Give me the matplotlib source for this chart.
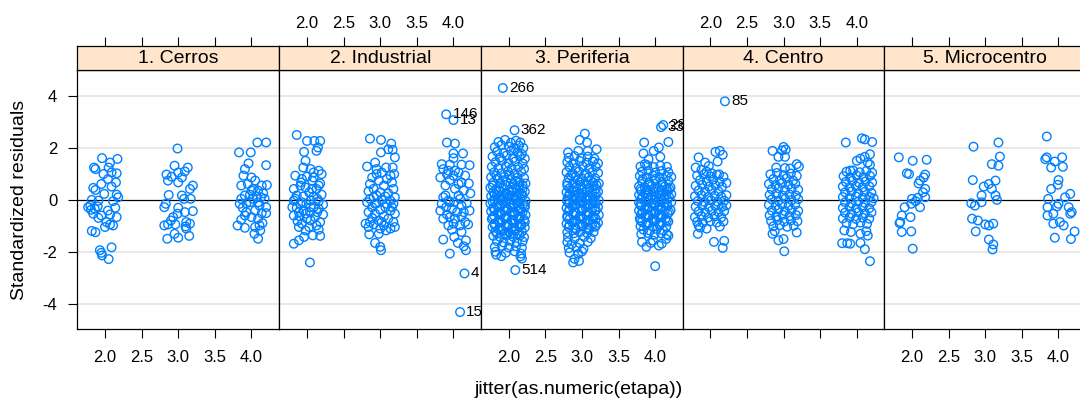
import matplotlib
matplotlib.use("Agg")
import matplotlib.pyplot as plt

plt.rcParams['font.family'] = ['Liberation Sans', 'DejaVu Sans']

# ---------------------------------------------------------------------------
# Data: standardized residuals against jittered etapa, one list per zone
# ---------------------------------------------------------------------------
panel_titles = ["1. Cerros", "2. Industrial", "3. Periferia", "4. Centro", "5. Microcentro"]
x_ticks = [2.0, 2.5, 3.0, 3.5, 4.0]
x_tick_labels = ["2.0", "2.5", "3.0", "3.5", "4.0"]
y_ticks = [-4, -2, 0, 2, 4]
y_tick_labels = ["-4", "-2", "0", "2", "4"]

cerros = [
    (1.96, 1.60), (2.17, 1.57), (2.07, 1.43), (1.85, 1.24), (1.87, 1.18), (2.05, 1.24),
    (1.98, 0.99), (2.09, 1.05), (2.16, 1.02), (2.04, 0.80), (2.15, 0.67), (1.95, 0.61),
    (1.84, 0.46), (1.87, 0.38), (2.09, 0.51), (1.99, 0.23), (2.16, 0.20), (2.18, 0.10),
    (1.82, 0.00), (1.91, -0.03), (2.11, -0.05), (1.80, -0.22), (1.90, -0.25), (2.14, -0.30),
    (1.86, -0.34), (2.04, -0.41), (1.84, -0.53), (1.95, -0.60), (2.07, -0.56), (2.16, -0.66),
    (1.91, -0.69), (2.02, -0.85), (2.11, -0.98), (2.00, -1.04), (2.07, -0.94), (1.82, -1.19),
    (1.87, -1.24), (1.93, -1.93), (1.95, -2.03), (1.96, -2.13), (2.09, -1.82), (2.05, -2.27),
    (1.77, -0.28), (1.81, -0.38),
    (2.99, 1.97), (2.95, 1.31), (3.13, 1.24), (2.84, 0.97), (2.91, 0.89), (3.00, 1.05),
    (3.09, 1.09), (3.05, 0.86), (2.86, 0.74), (3.00, 0.67), (3.20, 0.55), (3.16, 0.42),
    (2.87, 0.19), (3.05, 0.17), (3.08, 0.04), (3.17, 0.04), (2.83, -0.15), (2.81, -0.28),
    (3.00, -0.30), (3.09, -0.47), (3.20, -0.43), (2.93, -0.66), (2.99, -0.53), (2.90, -0.79),
    (3.11, -0.85), (2.81, -0.98), (2.96, -0.94), (3.16, -0.91), (2.86, -0.94), (3.11, -1.10),
    (2.95, -1.30), (3.15, -1.38), (2.85, -1.49), (3.00, -1.45), (3.10, -1.02),
    (4.08, 2.20), (4.20, 2.20), (3.83, 1.82), (3.99, 1.82), (3.96, 1.40), (4.20, 1.33),
    (3.91, 1.18), (3.89, 0.93), (4.00, 0.86), (4.05, 0.74), (3.86, 0.55), (3.95, 0.61),
    (4.14, 0.55), (4.21, 0.57), (4.02, 0.42), (4.09, 0.36), (4.16, 0.25), (3.91, 0.17),
    (3.98, 0.20), (4.07, 0.13), (4.13, 0.10), (3.86, 0.04), (4.02, 0.04), (4.18, 0.04),
    (3.84, -0.15), (3.93, -0.13), (4.09, -0.09), (3.88, -0.30), (4.20, -0.28), (4.05, -0.41),
    (4.14, -0.51), (4.20, -0.51), (3.91, -0.60), (4.00, -0.66), (3.86, -0.76), (4.09, -0.72),
    (4.15, -0.89), (3.81, -0.98), (3.91, -1.07), (4.05, -1.04), (4.11, -0.98), (4.12, -1.17),
    (4.04, -1.30), (4.09, -1.49), (3.98, -0.09), (4.11, -0.22), (3.93, -0.47), (4.00, 0.36),
]

industrial = [
    (1.86, 2.49), (2.00, 2.26), (2.10, 2.26), (2.18, 2.26), (2.15, 2.01), (2.13, 1.88),
    (1.96, 1.84), (1.98, 1.50), (1.95, 1.24), (2.05, 1.18), (2.09, 1.05), (2.16, 1.12),
    (1.84, 0.93), (1.93, 0.80), (2.00, 0.89), (2.20, 0.99), (2.07, 0.74), (2.18, 0.63),
    (1.91, 0.55), (1.98, 0.48), (1.82, 0.42), (2.13, 0.42), (2.03, 0.29), (2.20, 0.20),
    (1.86, 0.17), (1.95, 0.13), (2.09, 0.13), (1.82, -0.03), (2.05, -0.03), (2.16, -0.05),
    (1.91, -0.15), (1.99, -0.15), (2.22, -0.18), (1.80, -0.28), (1.86, -0.30), (2.09, -0.28),
    (2.16, -0.34), (1.95, -0.41), (2.04, -0.47), (2.22, -0.56), (1.82, -0.60), (1.90, -0.63),
    (2.11, -0.66), (2.00, -0.72), (2.05, -0.79), (1.87, -0.81), (2.18, -0.85), (1.93, -0.91),
    (2.13, -0.98), (2.03, -1.04), (1.89, -1.04), (2.16, -1.14), (1.98, -1.17), (2.08, -1.36),
    (2.18, -1.38), (1.96, -1.42), (1.89, -1.55), (1.82, -1.68), (2.04, -2.40), (1.92, 0.67),
    (2.09, 0.86), (1.84, 0.04), (2.14, 0.04), (1.93, -0.09), (2.05, -0.28), (1.98, -0.53),
    (2.14, -0.47), (1.89, -0.47), (2.07, 0.42), (2.16, 0.55),
    (2.86, 2.35), (3.01, 2.30), (3.15, 2.16), (3.17, 1.92), (3.11, 1.94), (3.01, 1.82),
    (3.20, 1.63), (2.82, 1.28), (2.93, 1.43), (2.95, 1.18), (3.08, 1.24), (3.17, 1.24),
    (3.02, 1.05), (3.19, 0.99), (2.89, 0.86), (3.09, 0.80), (2.98, 0.74), (3.16, 0.67),
    (2.86, 0.61), (3.05, 0.55), (2.91, 0.42), (3.18, 0.42), (2.84, 0.33), (3.00, 0.29),
    (3.11, 0.25), (2.95, 0.17), (3.07, 0.13), (3.20, 0.10), (2.86, 0.04), (3.02, 0.00),
    (3.14, -0.03), (2.82, -0.09), (2.95, -0.13), (3.18, -0.15), (2.89, -0.28), (3.07, -0.28),
    (3.00, -0.38), (3.14, -0.41), (2.84, -0.47), (2.93, -0.53), (3.20, -0.53), (3.05, -0.63),
    (2.89, -0.69), (3.11, -0.72), (2.98, -0.79), (3.18, -0.85), (2.80, -0.91), (2.91, -0.94),
    (3.05, -0.98), (2.84, -1.04), (3.00, -1.10), (3.08, -1.17), (2.85, -1.32), (2.98, -1.30),
    (2.93, -1.65), (3.00, -1.80), (3.01, -1.93), (2.95, 0.99), (3.14, 0.93), (2.91, 0.10),
    (3.09, -0.15), (2.93, -0.15), (3.16, -0.28), (3.02, -0.85), (2.86, -0.85), (3.20, -1.04),
    (3.14, -1.10),
    (3.91, 2.20), (4.02, 2.16), (4.00, 1.78), (4.13, 1.78), (4.00, 1.60), (3.84, 1.37),
    (3.95, 1.35), (4.11, 1.35), (4.22, 1.33), (3.86, 1.18), (4.02, 1.12), (3.91, 0.99),
    (4.00, 0.93), (3.82, 0.86), (4.16, 0.93), (4.11, 0.67), (4.21, 0.63), (3.95, 0.76),
    (4.02, 0.42), (4.14, 0.36), (4.23, 0.25), (3.89, 0.17), (4.09, 0.04), (3.93, -0.03),
    (4.01, -0.09), (3.84, -0.15), (4.18, -0.13), (4.11, -0.22), (3.90, -0.28), (3.98, -0.34),
    (4.22, -0.41), (3.82, -0.41), (4.05, -0.47), (3.91, -0.56), (4.11, -0.63), (3.95, -0.66),
    (3.86, -0.72), (4.16, -0.85), (4.00, -0.91), (3.93, -0.98), (4.09, -0.98), (4.20, -0.94),
    (3.98, -1.14), (4.11, -1.23), (3.86, -1.52), (4.01, -1.42), (4.17, -1.55), (4.06, -1.65),
    (4.14, -1.78), (4.17, -1.93), (3.95, -2.06), (3.93, 1.12), (4.07, 1.05), (3.89, 0.55),
    (4.07, 0.17), (4.14, -0.47), (4.02, -0.72), (3.86, 0.10), (4.07, 0.61), (3.95, -0.09),
]

periferia = [
    # etapa 2
    (1.86, 2.22), (1.95, 2.30), (2.03, 2.19), (2.10, 2.27), (2.16, 2.20),
    (1.81, 2.02), (1.90, 2.10), (2.00, 2.05), (2.07, 1.98), (2.14, 2.08), (2.20, 1.99),
    (1.84, 1.85), (1.93, 1.80), (2.03, 1.88), (2.12, 1.83), (2.18, 1.76),
    (1.78, 1.66), (1.88, 1.62), (1.97, 1.70), (2.06, 1.60), (2.15, 1.67), (2.22, 1.58),
    (1.82, 1.45), (1.91, 1.50), (2.00, 1.41), (2.09, 1.47), (2.19, 1.40),
    (1.77, 1.27), (1.86, 1.22), (1.96, 1.29), (2.04, 1.20), (2.13, 1.26), (2.21, 1.19),
    (1.80, 1.06), (1.90, 1.02), (1.99, 1.09), (2.08, 1.00), (2.17, 1.07),
    (1.76, 0.87), (1.85, 0.82), (1.94, 0.89), (2.03, 0.80), (2.12, 0.86), (2.21, 0.84),
    (1.79, 0.66), (1.88, 0.62), (1.97, 0.69), (2.06, 0.60), (2.15, 0.67), (2.23, 0.63),
    (1.75, 0.47), (1.83, 0.42), (1.92, 0.49), (2.01, 0.40), (2.10, 0.46), (2.19, 0.43),
    (1.79, 0.29), (1.87, 0.33), (1.96, 0.26), (2.05, 0.31), (2.14, 0.27), (2.22, 0.32),
    (1.76, 0.14), (1.84, 0.18), (1.93, 0.11), (2.02, 0.16), (2.11, 0.12), (2.19, 0.17),
    (1.80, 0.01), (1.89, -0.03), (1.98, 0.04), (2.07, -0.01), (2.16, 0.03), (2.23, -0.04),
    (1.75, -0.14), (1.84, -0.18), (1.93, -0.12), (2.02, -0.17), (2.11, -0.13), (2.20, -0.16),
    (1.79, -0.31), (1.88, -0.27), (1.97, -0.33), (2.06, -0.29), (2.15, -0.32), (2.22, -0.28),
    (1.76, -0.44), (1.85, -0.48), (1.94, -0.42), (2.03, -0.47), (2.12, -0.43), (2.19, -0.46),
    (1.80, -0.61), (1.89, -0.57), (1.98, -0.63), (2.07, -0.59), (2.16, -0.62), (2.23, -0.58),
    (1.77, -0.74), (1.86, -0.78), (1.95, -0.72), (2.04, -0.77), (2.13, -0.73), (2.21, -0.76),
    (1.81, -0.91), (1.90, -0.87), (1.99, -0.93), (2.08, -0.89), (2.17, -0.92),
    (1.78, -1.04), (1.87, -1.08), (1.96, -1.02), (2.05, -1.07), (2.14, -1.03), (2.22, -1.06),
    (1.82, -1.21), (1.91, -1.17), (2.00, -1.23), (2.09, -1.19), (2.18, -1.22),
    (1.79, -1.38), (1.88, -1.42), (1.97, -1.36), (2.06, -1.41), (2.15, -1.37), (2.21, -1.43),
    (1.84, -1.58), (1.93, -1.63), (2.02, -1.57), (2.11, -1.62), (2.19, -1.59),
    (1.81, -1.81), (1.91, -1.77), (2.00, -1.83), (2.10, -1.78), (2.18, -1.84),
    (1.82, -1.99), (1.96, -2.03), (2.08, -1.97), (2.17, -2.06),
    (1.83, -2.10), (1.90, -2.16), (2.18, -2.25), (2.16, -2.17),
    (1.83, 0.93), (1.92, 0.75), (2.01, 0.95), (2.10, 0.73), (2.19, 0.56),
    (1.78, 0.55), (1.87, 0.37), (1.96, 0.57), (2.05, 0.38), (2.14, 0.55),
    (1.81, 0.22), (1.90, 0.06), (1.99, 0.21), (2.08, 0.08), (2.17, 0.24),
    (1.78, -0.07), (1.87, -0.22), (1.96, -0.05), (2.05, -0.21), (2.14, -0.06), (2.22, -0.21),
    (1.81, -0.37), (1.90, -0.52), (1.99, -0.36), (2.08, -0.51), (2.17, -0.38),
    (1.78, -0.67), (1.87, -0.83), (1.96, -0.66), (2.05, -0.82), (2.14, -0.68), (2.22, -0.84),
    (1.81, -0.97), (1.90, -1.13), (1.99, -0.98), (2.08, -1.12), (2.17, -0.99),
    (1.84, -1.29), (1.94, -1.30), (2.03, -1.31), (2.12, -1.29),
    # etapa 3
    (3.04, 2.54), (2.97, 2.30), (3.07, 2.20), (3.20, 1.94), (2.81, 1.82), (2.95, 1.88), (3.08, 1.88),
    (2.82, 1.62), (2.90, 1.68), (2.99, 1.60), (3.08, 1.66), (3.17, 1.58),
    (2.80, 1.45), (2.88, 1.41), (2.97, 1.49), (3.06, 1.43), (3.15, 1.47), (3.22, 1.40),
    (2.83, 1.26), (2.92, 1.22), (3.01, 1.29), (3.10, 1.21), (3.19, 1.27),
    (2.79, 1.06), (2.87, 1.02), (2.96, 1.09), (3.05, 1.01), (3.14, 1.07), (3.22, 1.03),
    (2.82, 0.84), (2.91, 0.88), (3.00, 0.81), (3.09, 0.87), (3.18, 0.83),
    (2.80, 0.66), (2.88, 0.62), (2.97, 0.69), (3.06, 0.61), (3.15, 0.67), (3.23, 0.63),
    (2.83, 0.45), (2.92, 0.49), (3.01, 0.42), (3.10, 0.47), (3.19, 0.43),
    (2.79, 0.29), (2.87, 0.33), (2.96, 0.26), (3.05, 0.31), (3.14, 0.27), (3.22, 0.32),
    (2.82, 0.14), (2.91, 0.18), (3.00, 0.11), (3.09, 0.16), (3.18, 0.12),
    (2.80, 0.02), (2.88, -0.03), (2.97, 0.04), (3.06, -0.01), (3.15, 0.03), (3.23, -0.02),
    (2.83, -0.14), (2.92, -0.18), (3.01, -0.12), (3.10, -0.17), (3.19, -0.13),
    (2.79, -0.31), (2.87, -0.27), (2.96, -0.33), (3.05, -0.29), (3.14, -0.32), (3.22, -0.28),
    (2.82, -0.44), (2.91, -0.48), (3.00, -0.42), (3.09, -0.47), (3.18, -0.43),
    (2.80, -0.61), (2.88, -0.57), (2.97, -0.63), (3.06, -0.59), (3.15, -0.62), (3.23, -0.58),
    (2.83, -0.74), (2.92, -0.78), (3.01, -0.72), (3.10, -0.77), (3.19, -0.73),
    (2.79, -0.91), (2.87, -0.87), (2.96, -0.93), (3.05, -0.89), (3.14, -0.92), (3.22, -0.88),
    (2.82, -1.04), (2.91, -1.08), (3.00, -1.02), (3.09, -1.07), (3.18, -1.03),
    (2.80, -1.24), (2.89, -1.28), (2.98, -1.22), (3.07, -1.27), (3.16, -1.23),
    (2.81, -1.43), (2.90, -1.48), (3.03, -1.42), (3.12, -1.47),
    (2.80, -1.62), (2.86, -1.70), (2.97, -1.66), (3.08, -1.61),
    (2.82, -1.85), (2.93, -1.82), (3.02, -1.88),
    (2.83, -2.02), (2.95, -2.07), (3.00, -1.98),
    (2.90, -2.26), (2.96, -2.34), (2.88, -2.40),
    (2.85, 0.93), (2.94, 0.75), (3.03, 0.95), (3.12, 0.73), (3.20, 0.56),
    (2.80, 0.55), (2.89, 0.37), (2.98, 0.57), (3.07, 0.38), (3.16, 0.55),
    (2.83, 0.22), (2.92, 0.06), (3.01, 0.21), (3.10, 0.08), (3.19, 0.24),
    (2.80, -0.07), (2.89, -0.22), (2.98, -0.05), (3.07, -0.21), (3.16, -0.06),
    (2.83, -0.37), (2.92, -0.52), (3.01, -0.36), (3.10, -0.51), (3.19, -0.38),
    (2.80, -0.67), (2.89, -0.83), (2.98, -0.66), (3.07, -0.82), (3.16, -0.68),
    (2.83, -0.97), (2.92, -1.13), (3.01, -0.98), (3.10, -1.12), (3.19, -0.99),
    # etapa 4
    (4.18, 2.22), (3.85, 2.20), (4.05, 2.01), (3.98, 1.88), (3.84, 1.78), (4.07, 1.65),
    (3.91, 1.56), (3.86, 1.37),
    (3.80, 1.28), (3.89, 1.33), (3.98, 1.26), (4.07, 1.31), (4.16, 1.27),
    (3.82, 1.08), (3.91, 1.12), (4.00, 1.05), (4.09, 1.11), (4.18, 1.06),
    (3.79, 0.92), (3.88, 0.87), (3.97, 0.93), (4.06, 0.86), (4.15, 0.91), (4.22, 0.88),
    (3.82, 0.71), (3.91, 0.67), (4.00, 0.74), (4.09, 0.68), (4.18, 0.72),
    (3.78, 0.52), (3.86, 0.47), (3.95, 0.53), (4.04, 0.46), (4.13, 0.51), (4.21, 0.48),
    (3.81, 0.34), (3.90, 0.38), (3.99, 0.31), (4.08, 0.36), (4.17, 0.32),
    (3.78, 0.19), (3.86, 0.23), (3.95, 0.16), (4.04, 0.21), (4.13, 0.17), (4.22, 0.22),
    (3.81, 0.04), (3.90, 0.08), (3.99, 0.01), (4.08, 0.06), (4.17, 0.02),
    (3.78, -0.11), (3.86, -0.07), (3.95, -0.13), (4.04, -0.08), (4.13, -0.12), (4.22, -0.09),
    (3.81, -0.24), (3.90, -0.28), (3.99, -0.22), (4.08, -0.27), (4.17, -0.23),
    (3.78, -0.41), (3.86, -0.37), (3.95, -0.43), (4.04, -0.38), (4.13, -0.42), (4.21, -0.39),
    (3.81, -0.54), (3.90, -0.58), (3.99, -0.52), (4.08, -0.57), (4.17, -0.53),
    (3.79, -0.71), (3.87, -0.67), (3.96, -0.73), (4.05, -0.68), (4.14, -0.72),
    (3.82, -0.84), (3.91, -0.88), (4.00, -0.82), (4.09, -0.87), (4.18, -0.83),
    (3.80, -1.01), (3.88, -0.97), (3.97, -1.03), (4.06, -0.98), (4.15, -1.02),
    (3.84, -1.14), (3.93, -1.18), (4.02, -1.12), (4.11, -1.17),
    (3.81, -1.31), (3.90, -1.27), (3.99, -1.33), (4.08, -1.28), (4.16, -1.32),
    (3.82, -1.61), (3.88, -1.80), (3.94, -1.65), (4.09, -1.68), (4.05, -1.75), (4.18, -1.37),
    (4.15, -1.50), (4.00, -2.54), (3.97, -1.56),
    (3.83, 0.80), (3.92, 0.60), (4.01, 0.82), (4.10, 0.59), (4.19, 0.42),
    (3.80, 0.42), (3.89, 0.27), (3.98, 0.43), (4.07, 0.26), (4.16, 0.41),
    (3.83, 0.12), (3.92, -0.03), (4.01, 0.12), (4.10, -0.02), (4.19, 0.11),
    (3.80, -0.18), (3.89, -0.33), (3.98, -0.17), (4.07, -0.33), (4.16, -0.17),
    (3.83, -0.48), (3.92, -0.63), (4.01, -0.47), (4.10, -0.63), (4.19, -0.47),
    (3.80, -0.78), (3.89, -0.93), (3.98, -0.78), (4.07, -0.93), (4.16, -0.78),
]

centro = [
    # etapa 2
    (2.07, 1.84), (2.13, 1.88), (2.17, 1.73), (1.84, 1.63), (2.10, 1.47), (1.93, 1.43),
    (1.80, 1.24), (1.98, 1.30), (1.88, 1.15), (1.95, 1.08), (2.02, 1.02), (2.12, 0.98),
    (1.82, 0.93), (1.91, 0.98), (2.00, 0.90), (2.09, 0.96), (2.18, 0.88),
    (1.86, 0.76), (1.95, 0.71), (2.04, 0.78), (2.13, 0.70), (2.22, 0.65),
    (1.80, 0.54), (1.89, 0.58), (1.98, 0.51), (2.07, 0.56), (2.16, 0.50),
    (1.84, 0.36), (1.93, 0.31), (2.02, 0.38), (2.11, 0.33),
    (1.79, 0.14), (1.88, 0.18), (1.97, 0.11), (2.06, 0.16), (2.15, 0.12), (2.22, 0.18),
    (1.83, -0.04), (1.92, -0.08), (2.01, -0.02), (2.10, -0.07), (2.19, -0.03),
    (1.80, -0.26), (1.89, -0.22), (1.98, -0.28), (2.07, -0.23), (2.16, -0.27), (2.22, -0.21),
    (1.84, -0.44), (1.93, -0.48), (2.02, -0.42), (2.11, -0.47), (2.19, -0.43),
    (1.79, -0.66), (1.88, -0.62), (1.97, -0.68), (2.06, -0.63), (2.15, -0.67),
    (1.82, -0.84), (1.90, -0.88), (2.00, -0.82), (2.09, -0.87), (2.18, -0.83),
    (1.84, -0.98), (1.86, -1.06), (1.95, -1.10), (2.13, -1.02),
    (1.83, -1.30), (2.05, -1.61), (2.19, -1.57), (2.17, -1.84),
    # etapa 3
    (3.00, 2.03), (2.85, 1.88), (2.98, 1.90), (3.03, 1.93), (2.93, 1.65), (3.02, 1.65),
    (3.18, 1.37), (3.21, 1.28), (3.09, 1.20), (3.02, 1.22), (2.90, 1.24),
    (2.82, 0.98), (2.91, 1.03), (3.00, 0.95), (3.10, 1.01), (3.18, 0.92),
    (2.86, 0.80), (2.95, 0.76), (3.04, 0.83), (3.13, 0.74),
    (2.80, 0.61), (2.89, 0.57), (2.98, 0.64), (3.07, 0.58), (3.16, 0.62),
    (2.84, 0.41), (2.93, 0.45), (3.02, 0.38), (3.11, 0.43), (3.20, 0.39),
    (2.81, 0.19), (2.90, 0.23), (2.99, 0.16), (3.08, 0.21), (3.17, 0.17),
    (2.84, 0.02), (2.93, -0.03), (3.02, 0.04), (3.11, -0.01), (3.20, 0.03),
    (2.80, -0.19), (2.89, -0.23), (2.98, -0.17), (3.07, -0.22), (3.16, -0.18),
    (2.84, -0.41), (2.93, -0.37), (3.02, -0.43), (3.11, -0.38), (3.20, -0.42),
    (2.81, -0.59), (2.90, -0.63), (2.99, -0.57), (3.08, -0.62), (3.17, -0.58),
    (2.83, -0.81), (2.92, -0.77), (3.01, -0.83), (3.10, -0.78), (3.19, -0.82),
    (2.86, -1.01), (2.95, -0.97), (3.05, -1.03), (3.14, -0.99),
    (2.88, -1.20), (2.93, -1.55), (3.00, -1.50), (3.01, -1.97), (2.85, -1.30), (3.18, -1.25),
    # etapa 4
    (3.85, 2.20), (4.07, 2.36), (4.11, 2.32), (4.21, 2.22), (4.18, 1.75), (4.11, 1.65),
    (4.00, 1.50), (4.05, 1.58), (4.15, 1.43), (3.91, 1.12), (4.18, 1.35),
    (3.86, 1.08), (3.95, 1.13), (4.04, 1.06), (4.13, 1.11), (4.21, 1.04),
    (3.82, 0.91), (3.91, 0.86), (4.00, 0.93), (4.09, 0.87), (4.18, 0.92),
    (3.85, 0.69), (3.94, 0.73), (4.03, 0.66), (4.12, 0.71), (4.21, 0.67),
    (3.81, 0.51), (3.90, 0.47), (3.99, 0.53), (4.08, 0.48), (4.17, 0.52),
    (3.84, 0.29), (3.93, 0.33), (4.02, 0.26), (4.11, 0.31), (4.20, 0.27),
    (3.81, 0.11), (3.90, 0.07), (3.99, 0.13), (4.08, 0.08), (4.17, 0.12), (4.23, 0.06),
    (3.84, -0.09), (3.93, -0.13), (4.02, -0.07), (4.11, -0.12), (4.20, -0.08),
    (3.81, -0.31), (3.90, -0.27), (3.99, -0.33), (4.08, -0.28), (4.17, -0.32),
    (3.84, -0.49), (3.93, -0.53), (4.02, -0.47), (4.11, -0.52), (4.20, -0.48),
    (3.81, -0.71), (3.90, -0.67), (3.99, -0.73), (4.08, -0.68), (4.17, -0.72),
    (3.86, -0.89), (3.95, -0.93), (4.05, -0.87), (4.14, -0.92),
    (3.83, -1.17), (3.92, -1.23), (4.05, -1.30), (4.13, -1.20), (3.80, -1.66), (3.87, -1.66),
    (3.91, -1.68), (4.05, -1.65), (4.11, -1.89), (4.18, -2.35), (4.15, -1.37),
]

microcentro = [
    (1.82, 1.63), (2.01, 1.50), (2.20, 1.54), (1.93, 1.02), (1.96, 0.99), (2.18, 0.97),
    (2.16, 0.86), (2.11, 0.74), (2.09, 0.63), (2.18, 0.42), (2.15, 0.29), (2.00, 0.04),
    (2.08, 0.08), (2.18, 0.10), (2.05, -0.05), (1.99, -0.15), (2.11, -0.28), (1.90, -0.28),
    (1.86, -0.60), (1.98, -0.66), (1.84, -0.85), (1.83, -0.89), (1.86, -1.23), (1.99, -1.21),
    (2.01, -1.87),
    (2.84, 2.04), (3.18, 2.20), (3.20, 1.66), (3.09, 1.37), (3.18, 1.31), (2.83, 0.76),
    (3.14, 0.74), (3.05, 0.61), (2.98, 0.51), (3.09, 0.42), (2.95, 0.17), (3.14, 0.17),
    (3.16, 0.00), (2.81, -0.13), (2.86, -0.22), (2.95, -0.09), (2.82, -0.72), (2.90, -0.79),
    (3.00, -0.94), (3.05, -0.98), (3.11, -0.91), (2.87, -1.21), (3.05, -1.52), (3.11, -1.71),
    (3.10, -1.90),
    (3.84, 2.43), (3.82, 1.56), (3.84, 1.63), (4.05, 1.63), (3.95, 1.47), (3.90, 1.24),
    (4.06, 1.27), (4.00, 0.76), (3.99, 0.58), (3.90, 0.42), (4.16, 0.23), (4.09, 0.10),
    (3.86, 0.04), (3.85, -0.28), (4.00, -0.15), (3.98, -0.25), (3.93, -0.53), (3.85, -0.60),
    (4.14, -0.28), (4.18, -0.47), (4.16, -0.53), (3.93, -0.91), (4.02, -0.85), (4.07, -0.98),
    (4.22, -1.21), (3.95, -1.45), (4.17, -1.50),
]

panel_points = [cerros, industrial, periferia, centro, microcentro]

# Identified observations: panel index, x, y, id
outlier_panel = [1, 1, 1, 1, 2, 2, 2, 2, 2, 3]
outlier_x = [3.90, 4.00, 4.15, 4.09, 1.92, 2.08, 2.09, 4.08, 4.11, 2.20]
outlier_y = [3.28, 3.06, -2.82, -4.30, 4.29, 2.67, -2.69, 2.79, 2.87, 3.78]
outlier_id = ["146", "13", "4", "15", "266", "362", "514", "33", "28", "85"]

# ---------------------------------------------------------------------------
# Layout (pixel geometry of the trellis)
# ---------------------------------------------------------------------------
W, H = 1080, 401
fig = plt.figure(figsize=(W / 100, H / 100), dpi=100)

panel_lefts = [77.3, 279.3, 481.0, 682.6, 884.3]
panel_w = 201.8
panel_top, panel_bot, strip_top = 70.0, 329.0, 45.7

xlim = (1.622, 4.377)
ylim = (-4.95, 4.98)

point_color = "#0080ff"
strip_color = "#ffe5cc"
grid_color = "#e6e6e6"
frame_lw = 0.9
tick_len = 6.5
marker_area = 38
marker_lw = 1.0


def fx(px):
    return px / W


def fy(py):
    return 1 - py / H


for i, (title, pts) in enumerate(zip(panel_titles, panel_points)):
    left = panel_lefts[i]
    ax = fig.add_axes([fx(left), fy(panel_bot), panel_w / W, (panel_bot - panel_top) / H])
    ax.set_xlim(*xlim)
    ax.set_ylim(*ylim)

    for g in y_ticks:
        if g != 0:
            ax.axhline(g, color=grid_color, lw=1.3, zorder=0)
    ax.axhline(0, color="black", lw=0.9, zorder=1)

    xs = [p[0] for p in pts]
    ys = [p[1] for p in pts]
    ax.scatter(xs, ys, s=marker_area, facecolors="none", edgecolors=point_color,
               linewidths=marker_lw, zorder=3)

    for pi, ox, oy, oid in zip(outlier_panel, outlier_x, outlier_y, outlier_id):
        if pi == i:
            ax.scatter([ox], [oy], s=marker_area, facecolors="none", edgecolors=point_color,
                       linewidths=marker_lw, zorder=3)
            ax.annotate(oid, (ox, oy), xytext=(4.5, 0), textcoords="offset points",
                        ha="left", va="center", fontsize=11, color="black",
                        annotation_clip=False, clip_on=True, zorder=4)

    for sp in ax.spines.values():
        sp.set_linewidth(frame_lw)
        sp.set_color("black")

    ax.set_xticks(x_ticks)
    ax.set_xticklabels(x_tick_labels)
    ax.tick_params(axis="x", direction="out", length=tick_len, width=0.8,
                   bottom=True, top=False, labelbottom=(i % 2 == 0),
                   labelsize=12, pad=8.5, colors="black")
    ax.set_yticks(y_ticks)
    ax.set_yticklabels(y_tick_labels)
    ax.tick_params(axis="y", direction="out", length=tick_len, width=0.8,
                   left=(i == 0), right=(i == 4), labelleft=(i == 0),
                   labelright=False, labelsize=12, pad=8.0, colors="black")

    # strip with panel title and the top axis
    sax = fig.add_axes([fx(left), fy(panel_top), panel_w / W, (panel_top - strip_top) / H])
    sax.set_facecolor(strip_color)
    sax.set_xlim(*xlim)
    sax.set_ylim(0, 1)
    sax.set_yticks([])
    sax.set_xticks(x_ticks)
    sax.set_xticklabels(x_tick_labels)
    sax.tick_params(axis="x", direction="out", length=tick_len, width=0.8,
                    top=True, bottom=False, labeltop=(i % 2 == 1),
                    labelbottom=False, labelsize=12, pad=4.0, colors="black")
    for sp in sax.spines.values():
        sp.set_linewidth(frame_lw)
        sp.set_color("black")
    sax.text(0.5, 0.47, title, transform=sax.transAxes, ha="center", va="center",
             fontsize=14, color="black")

fig.text(fx(20), fy(200), "Standardized residuals", rotation=90,
         ha="center", va="center", fontsize=14, color="black")
fig.text(fx(579), fy(390), "jitter(as.numeric(etapa))",
         ha="center", va="center", fontsize=14, color="black")

fig.savefig("out.png", dpi=100)
